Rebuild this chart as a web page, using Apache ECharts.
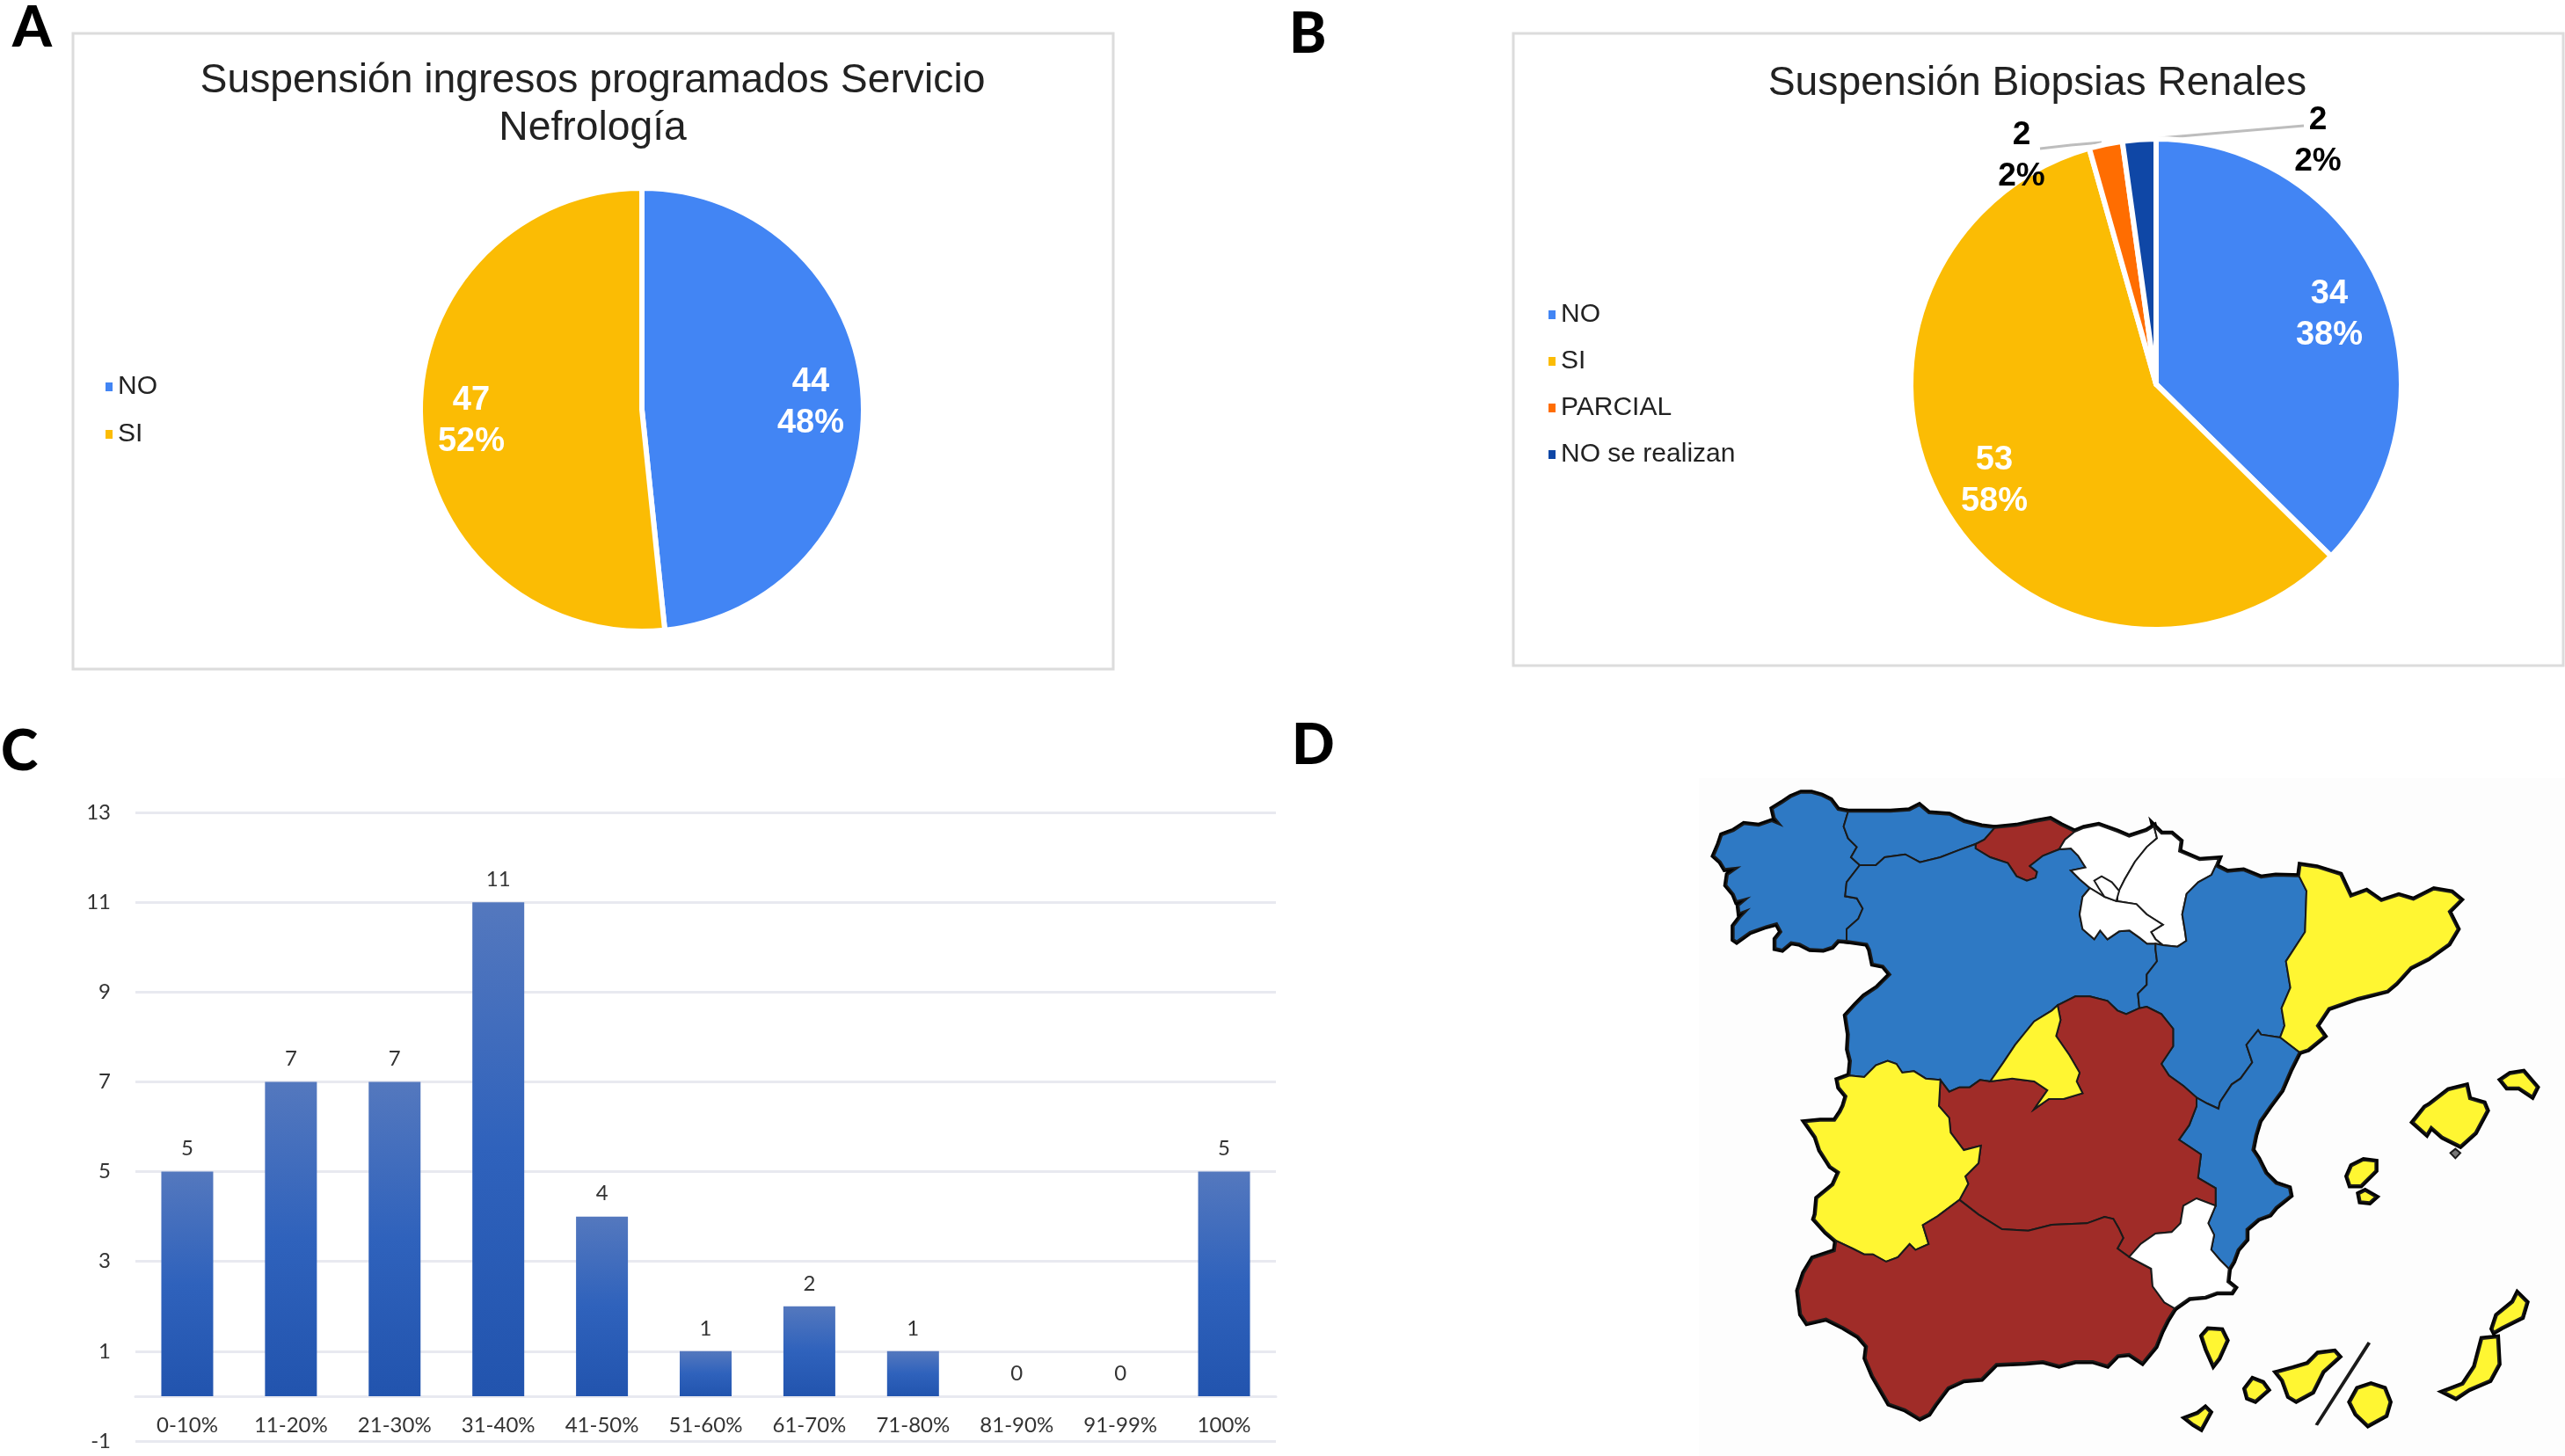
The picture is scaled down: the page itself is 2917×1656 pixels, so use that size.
<!DOCTYPE html>
<html><head><meta charset="utf-8">
<style>html,body{margin:0;padding:0;background:#fff}#c{width:2917px;height:1656px}</style>
<script src="https://cdn.jsdelivr.net/npm/echarts@6/dist/echarts.min.js"></script>
</head><body><div id="c"></div>
<script>
// ---- Data ----
const pieANames = ['NO', 'SI'];
const pieAValues = [44, 47];
const pieAPct = [48, 52];
const pieBNames = ['NO', 'SI', 'PARCIAL', 'NO se realizan'];
const pieBValues = [34, 53, 2, 2];
const pieBPct = [38, 58, 2, 2];
const pieColors = ['#4285F4', '#FBBC04', '#FF6D01', '#0F47A6'];
const barCategories = ['0-10%','11-20%','21-30%','31-40%','41-50%','51-60%','61-70%','71-80%','81-90%','91-99%','100%'];
const barValues = [5, 7, 7, 11, 4, 1, 2, 1, 0, 0, 5];
const yTicks = [-1, 1, 3, 5, 7, 9, 11, 13];
const titleA = 'Suspensión ingresos programados Servicio\nNefrología';
const titleB = 'Suspensión Biopsias Renales';

// map status per region
const regionStatus = {
  Galicia: 'blue', Asturias: 'blue', 'Castilla y León': 'blue', Aragón: 'blue', Valencia: 'blue',
  Cantabria: 'red', 'Castilla-La Mancha': 'red', Andalucía: 'red',
  'País Vasco': 'white', Navarra: 'white', 'La Rioja': 'white', Murcia: 'white', Treviño: 'white',
  Cataluña: 'yellow', Madrid: 'yellow', Extremadura: 'yellow', Baleares: 'yellow', Canarias: 'yellow',
  Cabrera: 'grey', Divisor: 'black'
};
const statusColors = { blue: '#2E79C4', red: '#A02C28', yellow: '#FFF632', white: '#FFFFFF', black: '#222222', grey: '#777777' };

// map outlines: traced border chains, tracing grid 3051 x 2388
const gCoast = [[605,190],[570,183],[545,150],[515,135],[480,125],[445,125],[410,140],[380,160],[348,180],[355,210],[375,235],[345,222],[300,238],[250,232],[215,255],[175,270],[165,300],[148,340],[170,360],[185,385],[230,380],[195,405],[190,440],[215,470],[225,495],[262,485],[232,510],[235,535],[262,525],[238,550],[215,580],[215,625],[225,632],[270,600],[325,580],[362,570],[378,600],[358,625],[358,655],[380,660],[410,635],[440,640],[475,658],[520,660],[550,650],[570,628],[600,630]];
const gCyl = [[600,630],[600,590],[640,555],[655,520],[635,485],[595,478],[600,430],[645,372]];
const gAst = [[645,372],[615,345],[635,310],[605,280],[590,240],[605,190]];
const astCoast = [[605,190],[680,190],[750,190],[815,185],[848,168],[880,195],[950,200],[1000,225],[1060,240],[1105,245]];
const astCan = [[1105,245],[1070,285],[1040,300]];
const astCyl = [[1040,300],[985,320],[920,345],[850,362],[800,335],[730,345],[700,372],[645,372]];
const canCoast = [[1105,245],[1180,238],[1240,225],[1295,215],[1330,235],[1378,258]];
const canPv = [[1378,258],[1345,285],[1325,318]];
const canCyl = [[1325,318],[1270,340],[1225,375],[1250,395],[1245,415],[1215,425],[1180,410],[1150,365],[1090,345],[1040,315],[1040,300]];
const cylPv = [[1325,318],[1365,315],[1390,340],[1415,380],[1365,390],[1395,420],[1430,450]];
const cylRioja = [[1430,450],[1405,480],[1395,540],[1405,590],[1445,625],[1465,595],[1490,625],[1530,598],[1565,595],[1600,620],[1625,640],[1654,640]];
const cylAra = [[1654,640],[1654,660],[1659,700],[1624,745],[1624,780],[1594,810],[1599,860]];
const cylClm = [[1599,860],[1554,880],[1524,868],[1490,835],[1430,820],[1380,820],[1320,850]];
const cylMad = [[1320,850],[1300,868],[1240,905],[1175,985],[1135,1045],[1090,1110]];
const cylClm2 = [[1090,1110],[1055,1105],[1020,1130],[985,1130],[950,1145],[920,1105]];
const cylExt = [[920,1105],[870,1100],[830,1075],[790,1080],[770,1050],[740,1040],[700,1055],[660,1095],[610,1090]];
const cylPort = [[610,1090],[615,1040],[605,1000],[608,950],[598,885],[630,850],[660,820],[705,790],[750,745],[725,715],[690,708],[680,660],[670,640],[600,630]];
const pvCoast = [[1378,258],[1410,245],[1460,235],[1524,258],[1564,275],[1624,255],[1649,240]];
const pvNav = [[1649,240],[1659,280],[1624,310],[1584,360],[1549,420],[1524,470],[1524,495]];
const pvRioja = [[1524,495],[1480,480],[1430,450]];
const navCoast = [[1649,240],[1674,265],[1709,265],[1739,290],[1734,325],[1804,355],[1869,350],[1859,375]];
const navAra = [[1859,375],[1845,405],[1800,430],[1760,470],[1745,540],[1755,600],[1759,630],[1729,650],[1679,645]];
const navRioja = [[1679,645],[1654,625],[1639,600],[1679,575],[1624,540],[1589,505],[1524,495]];
const araTop = [[1859,375],[1899,395],[1954,390],[2014,415],[2064,408],[2144,410]];
const araCat = [[2144,410],[2169,460],[2164,600],[2099,700],[2114,790],[2084,860],[2094,920],[2079,960]];
const araVal = [[2079,960],[2014,950],[2004,935],[1964,985],[1984,1045],[1944,1100],[1914,1120],[1874,1180],[1869,1203]];
const araTip = [[1869,1203],[1830,1185],[1794,1165]];
const araClm = [[1794,1165],[1749,1125],[1700,1090],[1674,1050],[1714,990],[1714,930],[1674,880],[1624,855],[1599,860]];
const catCoast = [[2149,372],[2204,380],[2284,405],[2319,480],[2374,460],[2424,495],[2484,475],[2534,490],[2604,455],[2664,465],[2694,490],[2654,530],[2684,590],[2654,640],[2584,690],[2524,720],[2474,775],[2444,800],[2344,825],[2244,860],[2204,920],[2229,955],[2174,1000],[2144,1010]];
const valCoast = [[2144,1010],[2114,1070],[2084,1140],[2044,1194],[2009,1244],[1994,1294],[1984,1344],[2004,1374],[2029,1424],[2064,1459],[2109,1474],[2114,1499],[2064,1539],[2044,1564],[2004,1579],[1964,1614],[1964,1649],[1934,1684],[1919,1724],[1904,1749]];
const valMur = [[1904,1749],[1874,1719],[1844,1684],[1854,1634],[1834,1594],[1859,1534]];
const clmVal = [[1859,1534],[1859,1474],[1799,1439],[1809,1359],[1734,1309],[1769,1259],[1794,1194],[1794,1165]];
const clmMur = [[1564,1709],[1604,1664],[1654,1629],[1709,1624],[1739,1594],[1749,1534],[1794,1509],[1859,1534]];
const clmAnd = [[985,1514],[1050,1564],[1130,1614],[1220,1619],[1300,1599],[1420,1594],[1480,1572],[1510,1579],[1528,1610],[1544,1644],[1524,1680],[1564,1709]];
const clmExt = [[985,1514],[1015,1459],[1005,1434],[1050,1389],[1058,1329],[1000,1344],[955,1284],[950,1234],[915,1194],[920,1105]];
const madClm = [[1090,1110],[1165,1100],[1240,1110],[1285,1140],[1250,1190],[1240,1205],[1290,1170],[1340,1170],[1405,1150],[1385,1110],[1395,1080],[1360,1020],[1315,955],[1330,900],[1320,850]];
const extPort = [[610,1090],[570,1105],[575,1130],[600,1160],[590,1194],[580,1214],[560,1244],[510,1244],[460,1249],[495,1299],[510,1344],[545,1399],[575,1419],[555,1464],[500,1509],[495,1564],[490,1579],[530,1624],[565,1654]];
const extAnd = [[565,1654],[620,1680],[660,1700],[690,1700],[735,1725],[775,1710],[815,1665],[835,1685],[880,1665],[860,1600],[910,1570],[985,1514]];
const andMur = [[1564,1709],[1639,1749],[1644,1809],[1684,1864],[1719,1884]];
const andCoast = [[1719,1884],[1694,1924],[1674,1964],[1654,2014],[1609,2069],[1564,2039],[1524,2044],[1490,2079],[1440,2064],[1380,2064],[1325,2079],[1270,2064],[1210,2069],[1110,2074],[1060,2124],[1000,2129],[945,2154],[900,2214],[880,2244],[850,2259],[800,2229],[745,2209],[690,2114],[665,2054],[670,2014],[640,1979],[590,1949],[530,1919],[465,1934],[445,1904],[435,1824],[455,1764],[485,1714],[560,1689],[565,1654]];
const murCoast = [[1904,1749],[1899,1794],[1924,1814],[1914,1829],[1864,1829],[1824,1844],[1769,1849],[1719,1884]];

const rev = a => a.slice().reverse();
const loop = (...chains) => [].concat(...chains);
const outlines = {
  Galicia: [loop(gCoast, gCyl, gAst)],
  Asturias: [loop(astCoast, astCan, astCyl, gAst)],
  Cantabria: [loop(canCoast, canPv, canCyl, rev(astCan))],
  'Castilla y León': [loop(rev(canCyl), cylPv, cylRioja, cylAra, cylClm, cylMad, cylClm2, cylExt, cylPort, gCyl, rev(astCyl))],
  'País Vasco': [loop(pvCoast, pvNav, pvRioja, rev(cylPv), rev(canPv))],
  Navarra: [loop(navCoast, navAra, navRioja, rev(pvNav))],
  'La Rioja': [loop(cylRioja, navRioja, pvRioja)],
  Treviño: [[[1445,425],[1470,410],[1505,430],[1530,460],[1520,495],[1480,480],[1460,450]]],
  Aragón: [loop(araTop, araCat, araVal, araTip, araClm, rev(cylAra), rev(navAra))],
  Cataluña: [loop(catCoast, rev(araCat))],
  Valencia: [loop(valCoast, valMur, clmVal, rev(araTip), rev(araVal))],
  'Castilla-La Mancha': [loop(rev(cylClm), rev(araClm), rev(clmVal), rev(clmMur), rev(clmAnd), clmExt, rev(cylClm2), madClm)],
  Madrid: [loop(cylMad, madClm)],
  Extremadura: [loop(cylExt, extPort, extAnd, clmExt)],
  Andalucía: [loop(clmAnd, andMur, andCoast, extAnd)],
  Murcia: [loop(clmMur, rev(valMur), murCoast, rev(andMur))],
  Baleares: [
    [[2589,1190],[2654,1140],[2714,1125],[2724,1170],[2774,1185],[2784,1209],[2744,1284],[2694,1329],[2634,1299],[2594,1264],[2579,1289],[2534,1249],[2574,1199]],
    [[2834,1105],[2864,1085],[2909,1078],[2954,1130],[2939,1160],[2894,1130],[2854,1130]],
    [[2309,1434],[2324,1399],[2364,1379],[2404,1384],[2404,1414],[2369,1449],[2354,1464],[2319,1464]],
    [[2349,1494],[2369,1484],[2404,1504],[2384,1522],[2354,1519]]
  ],
  Cabrera: [[[2660,1354],[2677,1340],[2694,1354],[2677,1372]]],
  Canarias: [
    [[2804,1954],[2819,1909],[2874,1864],[2889,1834],[2919,1864],[2904,1914],[2834,1949],[2809,1964]],
    [[2639,2169],[2704,2144],[2744,2084],[2769,1989],[2819,1984],[2824,2074],[2794,2129],[2724,2159],[2679,2189]],
    [[2319,2204],[2344,2159],[2389,2144],[2434,2159],[2452,2204],[2439,2249],[2379,2282],[2339,2244]],
    [[2069,2104],[2124,2089],[2174,2074],[2209,2039],[2264,2032],[2279,2049],[2224,2099],[2189,2169],[2134,2199],[2109,2184],[2089,2129]],
    [[1961,2159],[1986,2126],[2019,2139],[2036,2162],[1994,2199],[1969,2189]],
    [[1814,1979],[1834,1956],[1879,1959],[1896,1994],[1869,2054],[1852,2076],[1829,2024]],
    [[1759,2259],[1799,2244],[1824,2224],[1839,2239],[1809,2294],[1784,2279]]
  ],
  Divisor: [[[2379,2002],[2384,2005],[2207,2281],[2202,2279]]]
};
// ---- Build ----
const toGeo = p => [p[0] / 3, -p[1] / 3];
const feature = name => ({
  type: 'Feature', properties: { name },
  geometry: { type: 'MultiPolygon', coordinates: outlines[name].map(r => { const c = r.map(toGeo); c.push(c[0]); return [c]; }) }
});
const allNames = Object.keys(outlines);
const landNames = allNames.filter(n => n !== 'Divisor' && n !== 'Cabrera');
echarts.registerMap('spain', { type: 'FeatureCollection', features: allNames.map(feature) });
echarts.registerMap('spainCoast', { type: 'FeatureCollection', features: landNames.map(feature) });

const F = '"Liberation Sans", Arial, sans-serif';
const chart = echarts.init(document.getElementById('c'), null, { renderer: 'canvas', width: 2917, height: 1656 });

const whiteLabel = { show: true, position: 'inside', color: '#fff', fontFamily: F, fontWeight: 'bold', fontSize: 38, lineHeight: 47 };
const blackLabel = { show: true, position: 'outside', color: '#000', fontFamily: F, fontWeight: 'bold', fontSize: 37, lineHeight: 47 };
const labelSpotsA = [[922, 458], [536, 479]];
const labelSpotsB = [[2649, 358], [2268, 547], [2299, 177], [2636, 160]];
const leaderLines = { 2: [[2390, 162], [2355, 165], [2320, 169]], 3: [[2432, 159], [2526, 151], [2620, 143]] };
const panel = (text, left, top) => ({ text, left, top, textStyle: { fontFamily: 'Lato', fontWeight: 900, fontSize: 64, color: '#000' } });
const head = (text, left, top) => ({ text, left, top, textAlign: 'center', textStyle: { fontFamily: F, fontWeight: 'normal', fontSize: 46.3, lineHeight: 54, color: '#222' } });
const mapBox = { left: 1900, top: 860, width: 1017, height: 796, aspectScale: 1, roam: false, silent: true,
  showLegendSymbol: false, boundingCoords: [[0, 0], [1017, -796]], label: { show: false } };

const option = {
  animation: false,
  backgroundColor: '#fff',
  title: [ head(titleA, 669, 60), head(titleB, 2312, 63),
    panel('A', 9, -5), panel('B', 1461, 2), panel('C', -4, 818), panel('D', 1464, 811) ],
  legend: [
    { data: pieANames, orient: 'vertical', left: 113, top: 420, itemWidth: 10, itemHeight: 12, itemGap: 24, icon: 'rect', selectedMode: false,
      textStyle: { fontFamily: F, fontSize: 30, color: '#222' } },
    { data: pieBNames, orient: 'vertical', left: 1754, top: 338, itemWidth: 10, itemHeight: 12, itemGap: 23, icon: 'rect', selectedMode: false,
      textStyle: { fontFamily: F, fontSize: 30, color: '#222' } }
  ],
  graphic: [
    { type: 'rect', z: -1, shape: { x: 83, y: 38, width: 1183, height: 723 }, style: { fill: '#fff', stroke: '#dcdcdc', lineWidth: 3 } },
    { type: 'rect', z: -1, shape: { x: 1721, y: 38, width: 1194, height: 719 }, style: { fill: '#fff', stroke: '#dcdcdc', lineWidth: 3 } },
    { type: 'rect', z: -1, shape: { x: 1932, y: 885, width: 985, height: 771 }, style: { fill: '#fdfdfd' } }
  ],
  grid: { left: 154, top: 924, width: 1297, height: 715, containLabel: false, outerBoundsMode: 'none' },
  xAxis: {
    type: 'category', data: barCategories,
    axisTick: { show: false },
    axisLine: { onZero: true, lineStyle: { color: '#e8e9f0', width: 3 } },
    axisLabel: { inside: true, color: '#333', fontFamily: 'Lato', fontSize: 24, margin: 6, interval: 0 }
  },
  yAxis: {
    type: 'value', min: -1, max: 13,
    axisLine: { show: false },
    axisTick: { show: false, customValues: yTicks },
    axisLabel: { customValues: yTicks, color: '#333', fontFamily: 'Lato', fontSize: 24, margin: 28 },
    splitLine: { show: true, lineStyle: { color: '#e8e9f0', width: 3 } }
  },
  series: [
    {
      type: 'pie', name: 'A', center: [730, 466], radius: 252, startAngle: 90, clockwise: true,
      itemStyle: { borderColor: '#fff', borderWidth: 6 },
      label: whiteLabel,
      labelLayout: p => ({ x: labelSpotsA[p.dataIndex][0], y: labelSpotsA[p.dataIndex][1], align: 'center', verticalAlign: 'middle' }),
      data: pieANames.map((name, i) => ({ name, value: pieAValues[i], itemStyle: { color: pieColors[i] },
        label: { formatter: pieAValues[i] + '\n' + pieAPct[i] + '%' } }))
    },
    {
      type: 'pie', name: 'B', center: [2452, 437], radius: 279, startAngle: 90, clockwise: true,
      minShowLabelAngle: 0, avoidLabelOverlap: false,
      itemStyle: { borderColor: '#fff', borderWidth: 6 },
      labelLine: { show: true, length: 10, length2: 10, lineStyle: { color: '#bdbdbd', width: 3 } },
      labelLayout: p => ({ x: labelSpotsB[p.dataIndex][0], y: labelSpotsB[p.dataIndex][1], align: 'center', verticalAlign: 'middle',
        labelLinePoints: leaderLines[p.dataIndex] }),
      data: pieBNames.map((name, i) => ({ name, value: pieBValues[i], itemStyle: { color: pieColors[i] },
        label: Object.assign({}, i < 2 ? whiteLabel : blackLabel, { formatter: pieBValues[i] + '\n' + pieBPct[i] + '%' }),
        labelLine: { show: i >= 2 } }))
    },
    {
      type: 'bar', data: barValues, barWidth: 59, z: 3,
      itemStyle: { color: { type: 'linear', x: 0, y: 0, x2: 0, y2: 1, colorStops: [
        { offset: 0, color: '#5478BE' }, { offset: 0.5, color: '#2F62BC' }, { offset: 1, color: '#2254AE' } ] } },
      label: { show: true, position: 'top', distance: 14, color: '#333', fontFamily: 'Lato', fontSize: 24 }
    },
    Object.assign({}, mapBox, {
      type: 'map', map: 'spainCoast', z: 2,
      itemStyle: { borderColor: '#000', borderWidth: 7, areaColor: '#000' },
      data: landNames.map(name => ({ name, value: 1 }))
    }),
    Object.assign({}, mapBox, {
      type: 'map', map: 'spain', z: 3,
      itemStyle: { borderColor: '#1a1a1a', borderWidth: 2, areaColor: '#fff' },
      data: allNames.map(name => ({ name, value: 1, itemStyle: { areaColor: statusColors[regionStatus[name]] } }))
    })
  ]
};
chart.setOption(option);
</script></body></html>
